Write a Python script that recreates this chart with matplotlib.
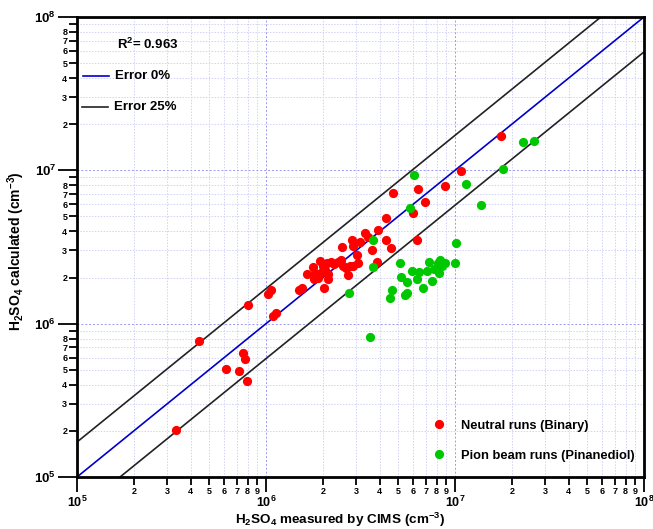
import numpy as np
import matplotlib
matplotlib.use('Agg')
import matplotlib.pyplot as plt
from matplotlib.ticker import LogLocator, FuncFormatter

plt.rcParams['font.family'] = ['Liberation Sans', 'DejaVu Sans']
plt.rcParams['font.weight'] = 'bold'
plt.rcParams['axes.labelweight'] = 'bold'
plt.rcParams['mathtext.fontset'] = 'custom'
plt.rcParams['mathtext.rm'] = 'Liberation Sans:bold'
plt.rcParams['mathtext.it'] = 'Liberation Sans:bold'
plt.rcParams['mathtext.bf'] = 'Liberation Sans:bold'
plt.rcParams['mathtext.default'] = 'rm'

# neutral runs (binary): measured vs calculated H2SO4 (cm-3)
neutral_meas = [3.35e5, 4.43e5, 6.15e5, 7.2e5, 7.56e5, 7.74e5, 7.94e5, 8.03e5,
                1.025e6, 1.06e6, 1.09e6, 1.13e6, 1.49e6, 1.55e6, 1.65e6, 1.77e6,
                1.82e6, 1.79e6, 1.88e6, 1.93e6, 1.98e6, 2.0e6, 2.05e6, 2.1e6,
                2.13e6, 2.02e6, 2.13e6, 2.2e6, 2.29e6, 2.4e6, 2.49e6, 2.55e6,
                2.65e6, 2.71e6, 2.78e6, 2.88e6, 2.52e6, 2.85e6, 2.88e6, 3.02e6,
                3.06e6, 3.14e6, 3.33e6, 3.46e6, 3.63e6, 3.91e6, 3.86e6, 4.31e6,
                4.31e6, 4.57e6, 4.69e6, 5.98e6, 6.28e6, 6.35e6, 6.92e6, 8.82e6,
                1.07e7, 1.76e7]
neutral_calc = [2.04e5, 7.66e5, 5.03e5, 4.88e5, 6.4e5, 5.85e5, 4.2e5, 1.32e6,
                1.55e6, 1.67e6, 1.13e6, 1.17e6, 1.67e6, 1.72e6, 2.1e6, 2.33e6,
                2.13e6, 1.95e6, 2.0e6, 2.55e6, 2.16e6, 2.36e6, 2.23e6, 2.47e6,
                2.1e6, 1.72e6, 1.95e6, 2.51e6, 2.44e6, 2.51e6, 2.59e6, 2.36e6,
                2.29e6, 2.07e6, 2.36e6, 2.36e6, 3.15e6, 3.49e6, 3.19e6, 2.79e6,
                2.47e6, 3.39e6, 3.88e6, 3.66e6, 3.01e6, 4.06e6, 2.51e6, 4.86e6,
                3.49e6, 3.1e6, 7.08e6, 5.24e6, 3.49e6, 7.52e6, 6.18e6, 7.86e6,
                9.85e6, 1.67e7]

# pion beam runs (pinanediol)
pion_meas = [2.74e6, 3.54e6, 3.67e6, 3.67e6, 4.52e6, 4.63e6, 5.42e6, 5.56e6,
             5.1e6, 5.17e6, 5.56e6, 5.91e6, 6.28e6, 6.43e6, 6.75e6, 7.09e6,
             7.26e6, 7.53e6, 7.72e6, 8.1e6, 8.3e6, 8.2e6, 8.51e6, 8.82e6,
             9.96e6, 1.01e7, 5.77e6, 6.05e6, 1.14e7, 1.37e7, 1.79e7, 2.28e7,
             2.61e7]
pion_calc = [1.58e6, 8.14e5, 3.49e6, 2.33e6, 1.48e6, 1.65e6, 1.53e6, 1.58e6,
             2.47e6, 2.03e6, 1.86e6, 2.19e6, 1.97e6, 2.16e6, 1.7e6, 2.19e6,
             2.51e6, 1.89e6, 2.26e6, 2.47e6, 2.59e6, 2.13e6, 2.36e6, 2.47e6,
             2.47e6, 3.34e6, 5.71e6, 9.28e6, 8.1e6, 5.91e6, 1.02e7, 1.52e7,
             1.55e7]

r2_text = r'R$^2$= 0.963'
error_factor = 1.69


def major_fmt(v, p):
    return r'$10^{%d}$' % round(np.log10(v))


def minor_digit(v):
    return int(round(v / 10 ** np.floor(np.log10(v) + 1e-9)))


fig = plt.figure(figsize=(6.53, 5.29), dpi=100)
ax = fig.add_axes([0.1179, 0.0983, 0.8683, 0.8696])
ax.set_xscale('log')
ax.set_yscale('log')
ax.set_xlim(1e5, 1e8)
ax.set_ylim(1e5, 1e8)

# grid
ax.grid(which='major', color='#9a9af0', linestyle=(0, (2, 2)), linewidth=0.7)
ax.grid(which='minor', color='#d2d2f8', linestyle=(0, (1.5, 1.5)), linewidth=0.7)
ax.set_axisbelow(True)

xx = np.array([1e4, 1e9])
ax.plot(xx, xx, color='#0000cc', lw=1.2, zorder=2)
ax.plot(xx, xx * error_factor, color='#222222', lw=1.2, zorder=2)
ax.plot(xx, xx / error_factor, color='#222222', lw=1.2, zorder=2)

ax.scatter(neutral_meas, neutral_calc, s=44, color='#ff0000', zorder=3, linewidths=0)
ax.scatter(pion_meas, pion_calc, s=44, color='#00c800', zorder=3, linewidths=0)

# ticks
for axis in (ax.xaxis, ax.yaxis):
    axis.set_major_locator(LogLocator(base=10, numticks=10))
    axis.set_minor_locator(LogLocator(base=10, subs=np.arange(2, 10), numticks=20))
    axis.set_major_formatter(FuncFormatter(major_fmt))
ax.xaxis.set_minor_formatter(FuncFormatter(lambda v, p: '%d' % minor_digit(v)))
ax.yaxis.set_minor_formatter(FuncFormatter(
    lambda v, p: '' if minor_digit(v) == 9 else '%d' % minor_digit(v)))

ax.tick_params(which='both', direction='out', width=1.3, colors='black')
ax.tick_params(axis='x', which='major', length=11, pad=2, labelsize=9)
ax.tick_params(axis='x', which='minor', length=6, pad=1, labelsize=6.5)
ax.tick_params(axis='y', which='major', length=14, pad=1, labelsize=9.5)
ax.tick_params(axis='y', which='minor', length=6, pad=1, labelsize=6.5)

for sp in ax.spines.values():
    sp.set_linewidth(2)

ax.set_xlabel(r'H$_2$SO$_4$ measured by CIMS (cm$^{-3}$)', fontsize=9.7, fontweight='bold')
ax.xaxis.set_label_coords(0.464, -0.074)
ax.set_ylabel(r'H$_2$SO$_4$ calculated (cm$^{-3}$)', fontsize=10, fontweight='bold')
ax.yaxis.set_label_coords(-0.088, 0.49)

# upper-left annotations
ax.text(0.07, 0.941, r2_text, transform=ax.transAxes, fontsize=9.5, va='center')
ax.plot([0.011, 0.057], [0.872, 0.872], transform=ax.transAxes, color='#0000cc', lw=1.2)
ax.text(0.067, 0.872, 'Error 0%', transform=ax.transAxes, fontsize=9.5, va='center')
ax.plot([0.009, 0.055], [0.805, 0.805], transform=ax.transAxes, color='#222222', lw=1.2)
ax.text(0.065, 0.805, 'Error 25%', transform=ax.transAxes, fontsize=9.5, va='center')

# lower-right legend
ax.scatter([0.638], [0.115], transform=ax.transAxes, s=44, color='#ff0000', linewidths=0)
ax.text(0.678, 0.11, 'Neutral runs (Binary)', transform=ax.transAxes, fontsize=9.3, va='center')
ax.scatter([0.638], [0.05], transform=ax.transAxes, s=44, color='#00c800', linewidths=0)
ax.text(0.678, 0.045, 'Pion beam runs (Pinanediol)', transform=ax.transAxes, fontsize=9.3, va='center')

fig.savefig('out.png', dpi=100)
